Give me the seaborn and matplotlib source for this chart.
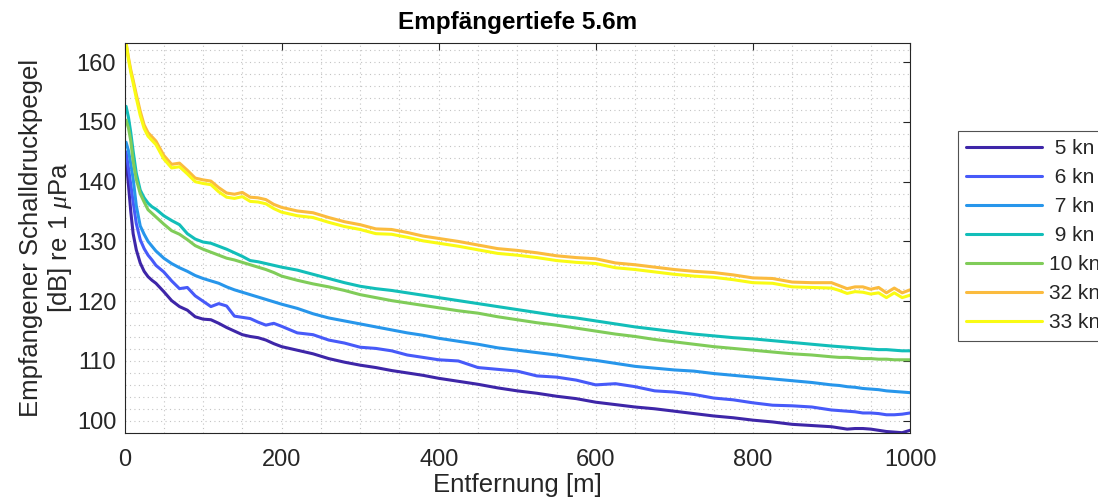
import numpy as np
import pandas as pd
import matplotlib
matplotlib.use("Agg")
import matplotlib.pyplot as plt
from matplotlib.ticker import MultipleLocator
import seaborn as sns

# Distance from the source [m]
entfernung = [2, 5, 8, 11, 15, 20, 25, 30, 35, 40,
              50, 60, 70, 80, 90, 100, 110, 120, 130, 140, 150, 160, 170, 180, 190, 200,
              220, 240, 260, 280, 300, 320, 340, 360, 380, 400,
              425, 450, 475, 500, 525, 550, 575, 600, 625, 650, 675, 700, 725, 750,
              775, 800, 825, 850, 875, 900,
              910, 920, 930, 940, 950, 960, 970, 980, 990, 1000]

# Received sound pressure level [dB re 1 uPa] per ship speed
spl_5kn = [143.8, 139.5, 135.0, 131.3, 128.6, 126.4, 125.0, 124.1, 123.5, 123.0,
           121.6, 120.1, 119.1, 118.5, 117.4, 117.0, 116.9, 116.3, 115.6, 115.0, 114.4, 114.1, 113.9, 113.5, 112.9, 112.4,
           111.8, 111.2, 110.4, 109.8, 109.3, 108.9, 108.4, 108.0, 107.6, 107.1,
           106.6, 106.1, 105.5, 105.0, 104.6, 104.1, 103.7, 103.1, 102.7, 102.3, 102.0, 101.6, 101.2, 100.8,
           100.5, 100.1, 99.8, 99.4, 99.2, 99.0,
           98.8, 98.6, 98.7, 98.7, 98.6, 98.4, 98.2, 98.1, 98.0, 98.4]
spl_6kn = [145.0, 142.3, 139.5, 136.6, 133.0, 130.3, 128.8, 127.7, 126.9, 126.0,
           124.9, 123.4, 122.1, 122.3, 120.9, 120.0, 119.1, 119.6, 119.2, 117.5, 117.3, 117.1, 116.5, 116.0, 116.3, 115.8,
           114.7, 114.4, 113.5, 113.0, 112.3, 112.1, 111.7, 111.0, 110.6, 110.2,
           110.0, 108.9, 108.6, 108.3, 107.5, 107.3, 106.8, 106.0, 106.2, 105.7, 105.0, 104.8, 104.4, 103.8,
           103.5, 103.0, 102.6, 102.5, 102.3, 101.8,
           101.7, 101.6, 101.5, 101.3, 101.3, 101.2, 101.0, 101.0, 101.1, 101.3]
spl_7kn = [146.6, 145.2, 143.0, 140.5, 136.0, 132.6, 131.2, 130.0, 129.2, 128.4,
           127.2, 126.3, 125.6, 125.0, 124.3, 123.8, 123.4, 123.0, 122.4, 121.9, 121.5, 121.1, 120.7, 120.3, 119.9, 119.5,
           118.8, 117.9, 117.2, 116.7, 116.2, 115.7, 115.2, 114.7, 114.3, 113.8,
           113.3, 112.8, 112.2, 111.8, 111.4, 111.0, 110.5, 110.1, 109.6, 109.1, 108.8, 108.5, 108.3, 107.9,
           107.6, 107.3, 107.0, 106.7, 106.4, 106.0,
           105.9, 105.7, 105.6, 105.4, 105.3, 105.2, 105.0, 104.9, 104.8, 104.7]
spl_9kn = [152.6, 150.8, 148.2, 145.1, 141.4, 138.6, 137.3, 136.4, 135.8, 135.4,
           134.3, 133.5, 132.8, 131.3, 130.4, 129.9, 129.7, 129.2, 128.7, 128.1, 127.5, 126.8, 126.6, 126.3, 126.0, 125.7,
           125.2, 124.5, 123.8, 123.1, 122.5, 122.1, 121.8, 121.4, 121.0, 120.6,
           120.1, 119.6, 119.1, 118.6, 118.1, 117.6, 117.2, 116.7, 116.2, 115.7, 115.3, 114.9, 114.5, 114.2,
           113.9, 113.7, 113.4, 113.1, 112.8, 112.5,
           112.4, 112.3, 112.2, 112.1, 112.0, 111.9, 111.9, 111.8, 111.7, 111.7]
spl_10kn = [150.3, 149.0, 146.8, 143.4, 140.4, 138.0, 136.6, 135.3, 134.7, 134.1,
            132.9, 131.8, 131.2, 130.3, 129.3, 128.7, 128.2, 127.7, 127.2, 126.9, 126.5, 126.1, 125.7, 125.3, 124.8, 124.2,
            123.5, 122.9, 122.4, 121.8, 121.1, 120.6, 120.1, 119.7, 119.3, 118.9,
            118.4, 118.0, 117.4, 116.9, 116.4, 116.0, 115.5, 115.0, 114.5, 114.1, 113.6, 113.2, 112.8, 112.4,
            112.1, 111.8, 111.5, 111.2, 111.0, 110.7,
            110.6, 110.6, 110.5, 110.4, 110.4, 110.3, 110.3, 110.2, 110.2, 110.2]
spl_32kn = [163.2, 160.8, 158.7, 157.0, 154.6, 151.8, 149.5, 148.2, 147.5, 146.8,
            144.4, 142.9, 143.1, 141.9, 140.6, 140.3, 140.1, 139.0, 138.1, 137.9, 138.2, 137.4, 137.3, 137.0, 136.2, 135.7,
            135.1, 134.8, 134.0, 133.3, 132.8, 132.1, 132.0, 131.5, 130.9, 130.5,
            130.0, 129.4, 128.8, 128.5, 128.1, 127.6, 127.3, 127.1, 126.4, 126.1, 125.7, 125.3, 125.0, 124.8,
            124.4, 123.9, 123.8, 123.2, 123.1, 123.1,
            122.6, 122.1, 122.4, 122.4, 122.0, 122.3, 121.4, 122.2, 121.4, 121.9]
spl_33kn = [163.2, 160.5, 158.3, 156.5, 154.0, 151.1, 148.9, 147.6, 146.9, 146.2,
            143.8, 142.3, 142.5, 141.3, 140.0, 139.7, 139.5, 138.3, 137.4, 137.2, 137.5, 136.7, 136.6, 136.3, 135.5, 134.9,
            134.3, 134.0, 133.2, 132.5, 132.0, 131.3, 131.2, 130.7, 130.1, 129.7,
            129.2, 128.6, 128.0, 127.7, 127.3, 126.8, 126.5, 126.3, 125.6, 125.3, 124.9, 124.5, 124.2, 124.0,
            123.6, 123.1, 123.0, 122.4, 122.3, 122.2,
            121.8, 121.3, 121.6, 121.5, 121.2, 121.4, 120.6, 121.4, 120.6, 121.0]

labels = [" 5 kn", " 6 kn", " 7 kn", " 9 kn", "10 kn", "32 kn", "33 kn"]
series = [spl_5kn, spl_6kn, spl_7kn, spl_9kn, spl_10kn, spl_32kn, spl_33kn]
colors = ["#3e26a8", "#475af9", "#2796eb", "#12beb9", "#80cc59", "#fbbb3e", "#f9fb14"]

df = pd.concat(
    [pd.DataFrame({"Entfernung": entfernung, "SPL": vals, "Geschwindigkeit": lab})
     for lab, vals in zip(labels, series)],
    ignore_index=True,
)

sns.set_style("white")
plt.rcParams["font.family"] = ["Liberation Sans", "DejaVu Sans"]
plt.rcParams["mathtext.fontset"] = "custom"
plt.rcParams["mathtext.it"] = "Liberation Serif:italic"

fig = plt.figure(figsize=(10.98, 5.03), dpi=100)
ax = fig.add_axes([124.5 / 1098, 1 - 432.7 / 503, (910 - 124.5) / 1098, (432.7 - 43) / 503])

sns.lineplot(data=df, x="Entfernung", y="SPL", hue="Geschwindigkeit",
             palette=dict(zip(labels, colors)), hue_order=labels,
             sort=False, estimator=None, linewidth=2.2, ax=ax, legend=True)

ax.set_xlim(0, 1000)
ax.set_ylim(98.0, 163.2)
ax.xaxis.set_major_locator(MultipleLocator(200))
ax.xaxis.set_minor_locator(MultipleLocator(50))
ax.yaxis.set_major_locator(MultipleLocator(10))
ax.yaxis.set_minor_locator(MultipleLocator(2))
ax.grid(which="both", linestyle=(0, (1, 3)), color="#c4c4c4", linewidth=0.8)
ax.set_axisbelow(True)

ax.tick_params(which="major", direction="in", length=5, width=0.8, top=True, right=True,
               labelsize=17, colors="#262626")
ax.tick_params(axis="x", which="major", pad=12)
ax.tick_params(axis="y", which="major", pad=6)
ax.tick_params(which="minor", length=0)
for s in ax.spines.values():
    s.set_color("#262626")
    s.set_linewidth(0.8)

ax.set_xlabel("Entfernung [m]", fontsize=18.5, color="#262626", labelpad=1)
ax.set_ylabel("Empfangener Schalldruckpegel\n[dB] re 1 $\\mu$Pa", fontsize=18.5,
              color="#262626", labelpad=2, linespacing=1.15)
ax.set_title("Empfängertiefe 5.6m", fontsize=17.5, fontweight="bold", color="black", pad=10)

handles, labs = ax.get_legend_handles_labels()
ax.get_legend().remove()
leg = fig.legend(handles, labs, loc="upper left", bbox_to_anchor=(958 / 1098, 1 - 131 / 503),
                 frameon=True, fancybox=False, fontsize=15, handlelength=3.65,
                 handletextpad=0.3, labelspacing=0.48, borderpad=0.4, borderaxespad=0)
leg.get_frame().set_edgecolor("#262626")
leg.get_frame().set_linewidth(0.8)
for line in leg.get_lines():
    line.set_linewidth(2.2)

fig.savefig("out.png", dpi=100)
